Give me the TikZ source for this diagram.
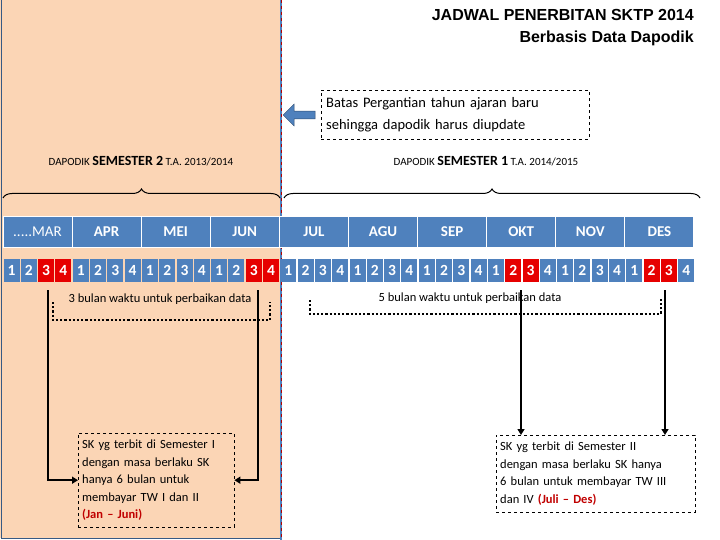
\documentclass[tikz,border=0pt]{standalone}
\usepackage{fontspec}
\setmainfont{Carlito}
\newfontfamily\arialf{Liberation Sans}
\usetikzlibrary{arrows.meta,decorations.pathreplacing,shapes.arrows}
\definecolor{peach}{RGB}{251,213,181}
\definecolor{cblue}{RGB}{79,129,189}
\definecolor{cred}{RGB}{230,0,0}
\definecolor{dred}{RGB}{192,0,0}
\def\marlbl{\mdseries.....MAR}
\tikzset{
 month/.style={fill=cblue,draw=white,line width=1pt,minimum width=69pt,minimum height=31pt,inner sep=0,text=white,font=\bfseries\fontsize{15}{15}\selectfont},
 wk/.style={fill=cblue,minimum width=16pt,minimum height=23pt,inner sep=0,text=white,font=\bfseries\fontsize{15.5}{15.5}\selectfont},
 wkr/.style={wk,fill=cred},
 note/.style={draw,dashed,align=left,inner sep=4pt,font=\fontsize{12.5}{17.5}\selectfont},
 conn/.style={line width=1.5pt,-{Triangle[length=6pt,width=7pt]}},
 dotb/.style={line width=2.2pt,dotted},
 brace/.style={decorate,decoration={brace,amplitude=9pt},line width=1pt},
}
\begin{document}
\begin{tikzpicture}[x=1pt,y=-1pt]
\useasboundingbox (0,0) rectangle (720,540);
\fill[peach] (0,0) rectangle (280,538);
\draw[cblue!70!black,line width=1pt] (1,0) -- (1,538) -- (280,538);
\draw[cblue,line width=2pt] (281,0) -- (281,540);
\draw[red!70!black,line width=1pt,dash pattern=on 3pt off 3pt] (281,0) -- (281,540);
\node[anchor=north east,align=right,inner sep=0,font=\arialf\bfseries\fontsize{16}{22}\selectfont] (title) at (694,9) {JADWAL PENERBITAN SKTP 2014\\Berbasis Data Dapodik};
\node[note,font=\fontsize{14.5}{22}\selectfont,minimum width=268pt,minimum height=49pt,anchor=north west,text width=258pt] (batas) at (321,90) {Batas Pergantian tahun ajaran baru\\sehingga dapodik harus diupdate};
\node[single arrow,shape border rotate=180,fill=cblue,draw=cblue!60!black,minimum height=32pt,minimum width=22pt,single arrow head extend=4pt,inner sep=2pt] (barrow) at (301,115) {};
\node[font=\fontsize{11}{12}\selectfont] (sem2) at (141,161) {DAPODIK \textbf{\fontsize{14}{14}\selectfont SEMESTER 2} T.A. 2013/2014};
\node[font=\fontsize{11}{12}\selectfont] (sem1) at (486,161) {DAPODIK \textbf{\fontsize{14}{14}\selectfont SEMESTER 1} T.A. 2014/2015};
\coordinate (bl1) at (3,198); \coordinate (bl2) at (280,198);
\coordinate (br1) at (284,198); \coordinate (br2) at (700,198);
\draw[brace] (bl1) -- (bl2);
\draw[brace] (br1) -- (br2);
\foreach \m [count=\i from 0] in {\marlbl,APR,MEI,JUN,JUL,AGU,SEP,OKT,NOV,DES}{
 \node[month] (m\i) at ({3+34.5+\i*69.1},232) {\m};
}
\foreach \i in {0,...,39}{
 \pgfmathtruncatemacro{\d}{mod(\i,4)+1}
 \pgfmathtruncatemacro{\isred}{(\i==2)||(\i==3)||(\i==14)||(\i==15)||(\i==29)||(\i==30)||(\i==37)||(\i==38)}
 \ifnum\isred=1 \def\st{wkr}\else\def\st{wk}\fi
 \node[\st] (w\i) at ({11.5+\i*17.3},270) {\d};
}
\node[font=\fontsize{12.5}{13}\selectfont] (t3) at (160,299) {3 bulan waktu untuk perbaikan data};
\node[font=\fontsize{12.5}{13}\selectfont] (t5) at (470,298) {5 bulan waktu untuk perbaikan data};
\coordinate (d1a) at (53,302); \coordinate (d1b) at (53,320); \coordinate (d1c) at (270,320); \coordinate (d1d) at (270,302);
\draw[dotb] (d1a) -- (d1b) -- (d1c) -- (d1d);
\coordinate (d2a) at (310,300); \coordinate (d2b) at (310,314); \coordinate (d2c) at (661,314); \coordinate (d2d) at (661,298);
\draw[dotb] (d2a) -- (d2b) -- (d2c) -- (d2d);
\node[note,anchor=north west,text width=148pt,minimum height=94pt] (skL) at (78,433) {SK yg terbit di Semester I\\dengan masa berlaku SK\\hanya 6 bulan untuk\\membayar TW I dan II\\\textcolor{dred}{\textbf{(Jan – Juni)}}};
\node[note,anchor=north west,text width=191pt,minimum height=77pt] (skR) at (496,435) {SK yg terbit di Semester II\\dengan masa berlaku SK hanya\\6 bulan untuk membayar TW III\\dan IV \textcolor{dred}{\textbf{(Juli – Des)}}};
\coordinate (aL) at (48,290); \coordinate (aR) at (258,290);
\coordinate (bR1) at (521,290); \coordinate (bR2) at (665,290);
\draw[conn] (aL) |- (skL.west);
\draw[conn] (aR) |- (skL.east);
\draw[conn] (bR1) -- (bR1 |- skR.north);
\draw[conn] (bR2) -- (bR2 |- skR.north);
\end{tikzpicture}
\end{document}
